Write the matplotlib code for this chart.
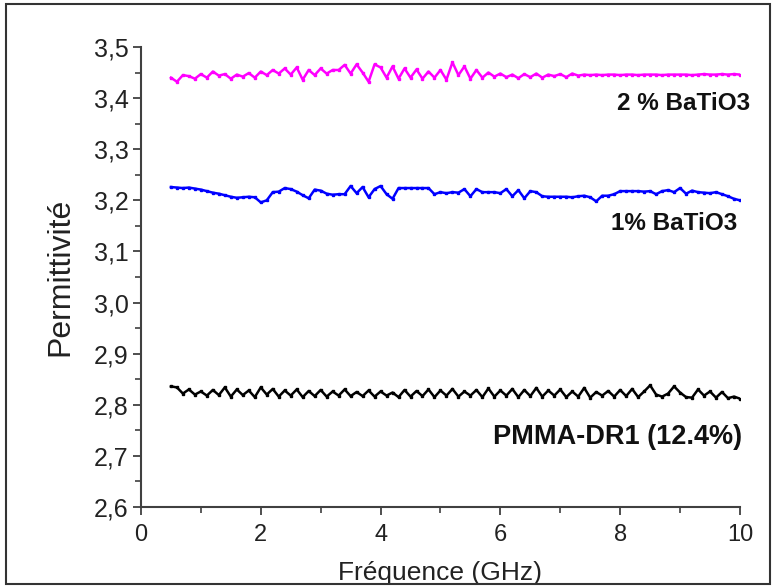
import numpy as np
import matplotlib
matplotlib.use("Agg")
import matplotlib.pyplot as plt
from matplotlib.ticker import MultipleLocator, FuncFormatter
from matplotlib.patches import Rectangle

plt.rcParams['font.family'] = ['Liberation Sans', 'DejaVu Sans']

freq = np.round(np.arange(0.5, 10.0001, 0.1), 2)  # GHz measurement grid

eps_2pct = [
    3.440, 3.432, 3.445, 3.443, 3.438, 3.447, 3.440, 3.452, 3.444, 3.447,
    3.438, 3.446, 3.442, 3.449, 3.440, 3.452, 3.445, 3.455, 3.448, 3.458,
    3.446, 3.460, 3.436, 3.455, 3.445, 3.458, 3.448, 3.455, 3.455, 3.465,
    3.448, 3.466, 3.450, 3.432, 3.466, 3.460, 3.440, 3.462, 3.438, 3.458,
    3.440, 3.456, 3.438, 3.452, 3.440, 3.455, 3.436, 3.470, 3.445, 3.462,
    3.438, 3.455, 3.440, 3.450, 3.442, 3.448, 3.441, 3.446, 3.439, 3.447,
    3.441, 3.448, 3.440, 3.446, 3.443, 3.447, 3.441, 3.448, 3.444, 3.446,
    3.445, 3.446, 3.445, 3.446, 3.446, 3.445, 3.446, 3.446, 3.445, 3.446,
    3.446, 3.446, 3.445, 3.446, 3.446, 3.446, 3.446, 3.445, 3.446, 3.447,
    3.446, 3.446, 3.447, 3.446, 3.447, 3.446,
]

eps_1pct = [
    3.226, 3.225, 3.224, 3.225, 3.223, 3.221, 3.218, 3.215, 3.213, 3.210,
    3.207, 3.205, 3.206, 3.207, 3.206, 3.196, 3.200, 3.216, 3.217, 3.224,
    3.222, 3.217, 3.210, 3.204, 3.221, 3.219, 3.213, 3.211, 3.212, 3.212,
    3.228, 3.214, 3.226, 3.206, 3.222, 3.228, 3.212, 3.203, 3.224, 3.224,
    3.224, 3.224, 3.224, 3.224, 3.212, 3.216, 3.214, 3.216, 3.215, 3.222,
    3.208, 3.222, 3.216, 3.216, 3.216, 3.214, 3.222, 3.208, 3.220, 3.204,
    3.218, 3.216, 3.208, 3.207, 3.207, 3.207, 3.207, 3.206, 3.208, 3.209,
    3.206, 3.198, 3.209, 3.209, 3.212, 3.218, 3.218, 3.218, 3.218, 3.217,
    3.218, 3.212, 3.218, 3.220, 3.216, 3.224, 3.213, 3.219, 3.216, 3.215,
    3.214, 3.216, 3.212, 3.208, 3.203, 3.200,
]

eps_pmma = [
    2.836, 2.834, 2.822, 2.830, 2.820, 2.826, 2.818, 2.829, 2.819, 2.834,
    2.816, 2.830, 2.819, 2.828, 2.815, 2.834, 2.820, 2.831, 2.816, 2.828,
    2.818, 2.830, 2.815, 2.827, 2.817, 2.829, 2.816, 2.826, 2.818, 2.830,
    2.817, 2.825, 2.817, 2.828, 2.816, 2.826, 2.818, 2.824, 2.815, 2.829,
    2.816, 2.827, 2.817, 2.830, 2.815, 2.828, 2.818, 2.831, 2.816, 2.826,
    2.818, 2.829, 2.815, 2.832, 2.816, 2.828, 2.818, 2.831, 2.815, 2.829,
    2.817, 2.833, 2.816, 2.828, 2.818, 2.830, 2.815, 2.826, 2.816, 2.833,
    2.814, 2.825, 2.818, 2.827, 2.816, 2.829, 2.817, 2.831, 2.815, 2.826,
    2.838, 2.820, 2.816, 2.822, 2.836, 2.824, 2.815, 2.814, 2.830, 2.818,
    2.826, 2.814, 2.825, 2.813, 2.816, 2.812,
]

series_labels = ["2 % BaTiO3", "1% BaTiO3", "PMMA-DR1 (12.4%)"]
series_colors = ["#FF00FF", "#0000FF", "#000000"]

fig = plt.figure(figsize=(7.72, 5.86), dpi=100)
ax = fig.add_axes([0.1826, 0.1348, 0.7759, 0.785])

for vals, col in zip([eps_2pct, eps_1pct, eps_pmma], series_colors):
    ax.plot(freq, vals, color=col, lw=1.8, marker='s', ms=2.0, mec=col, mfc=col)

ax.set_xlim(0, 10)
ax.set_ylim(2.6, 3.5)
ax.xaxis.set_major_locator(MultipleLocator(2))
ax.xaxis.set_minor_locator(MultipleLocator(1))
ax.yaxis.set_major_locator(MultipleLocator(0.1))
ax.yaxis.set_minor_locator(MultipleLocator(0.05))
ax.yaxis.set_major_formatter(FuncFormatter(lambda v, p: f"{v:.1f}".replace('.', ',')))
ax.xaxis.set_major_formatter(FuncFormatter(lambda v, p: f"{v:.0f}"))

for s in ['top', 'right']:
    ax.spines[s].set_visible(False)
for s in ['left', 'bottom']:
    ax.spines[s].set_linewidth(1.5)
    ax.spines[s].set_color('#404040')

ax.tick_params(which='major', direction='out', length=6, width=1.3, color='#404040',
               labelcolor='#222222', pad=3)
ax.tick_params(axis='y', which='major', labelsize=18)
ax.tick_params(axis='x', which='major', labelsize=17, pad=6)
ax.tick_params(which='minor', direction='out', length=4, width=1.2, color='#404040')

ax.set_xlabel("Fréquence (GHz)", fontsize=19, color='#222222', labelpad=11)
ax.set_ylabel("Permittivité", fontsize=23, color='#222222', labelpad=13)

ax.text(10.17, 3.390, series_labels[0], ha='right', va='center', fontsize=17.5,
        fontweight='bold', color='#111111')
ax.text(9.95, 3.154, series_labels[1], ha='right', va='center', fontsize=17.5,
        fontweight='bold', color='#111111')
ax.text(10.03, 2.737, series_labels[2], ha='right', va='center', fontsize=19.5,
        fontweight='bold', color='#111111')

fig.patches.append(Rectangle((6 / 772, 2 / 586), 764 / 772, 580 / 586,
                             transform=fig.transFigure, fill=False,
                             edgecolor='#333333', lw=1.5))

fig.savefig("out.png", dpi=100)
